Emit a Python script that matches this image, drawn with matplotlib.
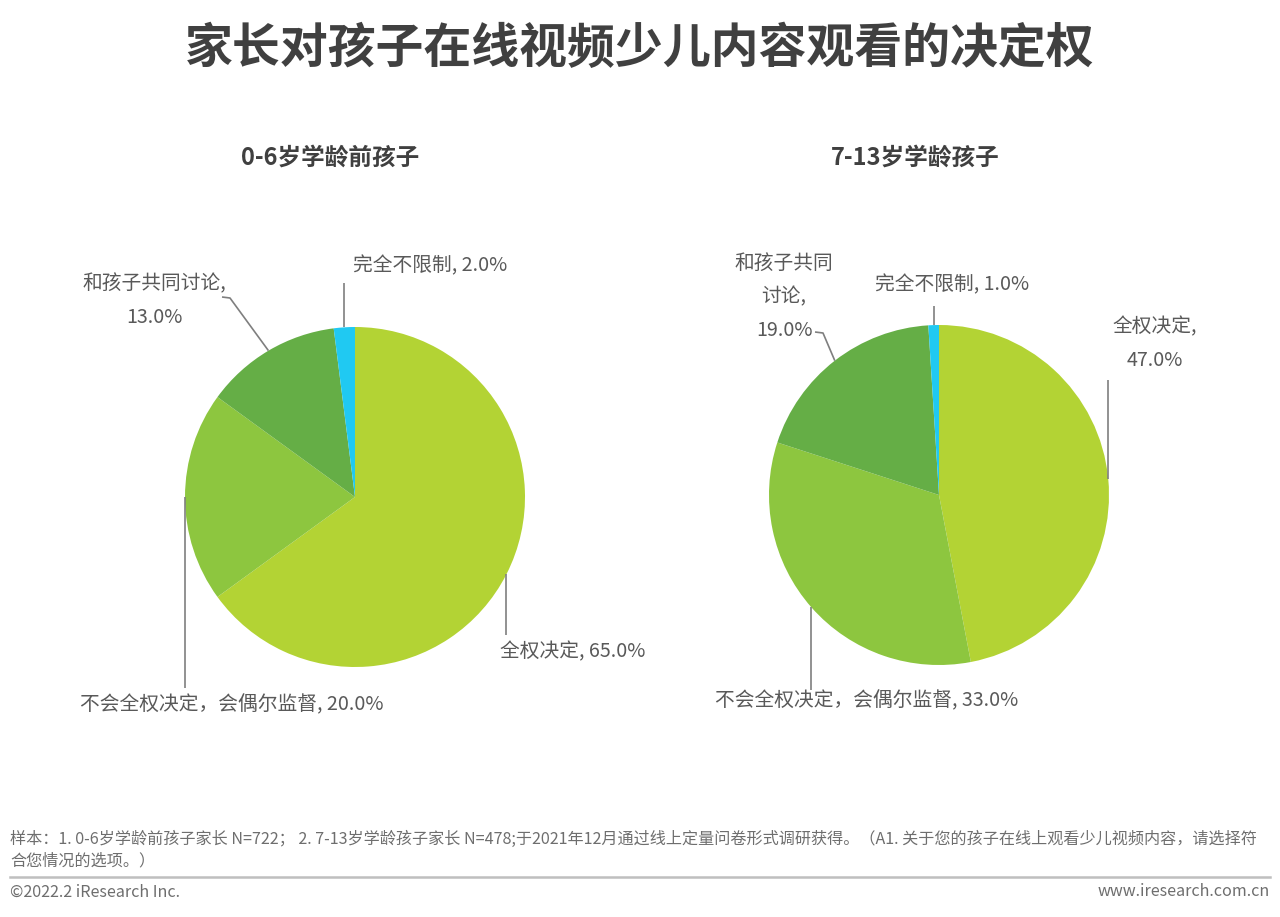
import numpy as np
import matplotlib
matplotlib.use("Agg")
import matplotlib.pyplot as plt

plt.rcParams['font.family'] = ['Noto Sans CJK SC', 'DejaVu Sans']

title = "家长对孩子在线视频少儿内容观看的决定权"
subtitles = ["0-6岁学龄前孩子", "7-13岁学龄孩子"]
categories = ["全权决定", "不会全权决定，会偶尔监督", "和孩子共同讨论", "完全不限制"]
values_0_6 = [65.0, 20.0, 13.0, 2.0]
values_7_13 = [47.0, 33.0, 19.0, 1.0]
colors = ["#B3D334", "#8DC63F", "#65AE46", "#20C9F2"]

note = ("样本：1. 0-6岁学龄前孩子家长 N=722； 2. 7-13岁学龄孩子家长 N=478;于2021年12月通过线上定量问卷形式调研获得。（A1. 关于您的孩子在线上观看少儿视频内容，请选择符\n"
        "合您情况的选项。）")
copyright_text = "©2022.2 iResearch Inc."
site_text = "www.iresearch.com.cn"

W, H = 1280, 917
fig = plt.figure(figsize=(W / 100, H / 100), dpi=100)
ax = fig.add_axes([0, 0, 1, 1])
ax.set_xlim(0, W)
ax.set_ylim(0, H)
ax.axis('off')

def Y(py):
    return H - py

TXT = "#595959"
LINE = "#7F7F7F"

charts = [
    dict(values=values_0_6, center=(355, 497), r=170, sub_x=330,
         labels=[
             dict(text="全权决定, {:.1f}%", pos=(500, 652), ha='left', path=[(505, 635)], vert=True),
             dict(text="不会全权决定，会偶尔监督, {:.1f}%", pos=(80, 705), ha='left', path=[(185, 688)], vert=True),
             dict(text="和孩子共同讨论,\n{:.1f}%", pos=(154, 301), ha='center', path=[(230, 298), (222, 297)], vert=False),
             dict(text="完全不限制, {:.1f}%", pos=(353, 266), ha='left', path=[(344, 283)], vert=True),
         ]),
    dict(values=values_7_13, center=(939, 495), r=170, sub_x=915,
         labels=[
             dict(text="全权决定,\n{:.1f}%", pos=(1155, 344), ha='center', path=[(1106, 380)], vert=True),
             dict(text="不会全权决定，会偶尔监督, {:.1f}%", pos=(715, 701), ha='left', path=[(811, 690)], vert=True),
             dict(text="和孩子共同\n讨论,\n{:.1f}%", pos=(784, 297), ha='center', path=[(823, 333), (815, 332)], vert=False),
             dict(text="完全不限制, {:.1f}%", pos=(875, 285), ha='left', path=[(933, 306)], vert=True),
         ]),
]

for i, ch in enumerate(charts):
    cx, cy = ch['center']
    wedges, _ = ax.pie(ch['values'], colors=colors, startangle=90, counterclock=False,
                       center=(cx, Y(cy)), radius=ch['r'], frame=True,
                       wedgeprops=dict(linewidth=0))
    for w, v, lab in zip(wedges, ch['values'], ch['labels']):
        mid = np.deg2rad((w.theta1 + w.theta2) / 2)
        px = cx + ch['r'] * np.cos(mid)
        py = Y(cy) + ch['r'] * np.sin(mid)
        xs = [px]
        ys = [py]
        for (qx, qy) in lab['path']:
            if lab['vert'] and len(xs) == 1:
                xs.append(px)
            else:
                xs.append(qx)
            ys.append(Y(qy))
        ax.plot(xs, ys, color=LINE, lw=1.2, solid_capstyle='butt')
        ax.text(lab['pos'][0], Y(lab['pos'][1]), lab['text'].format(v), ha=lab['ha'], va='center',
                fontsize=14.2, color=TXT, linespacing=1.78, multialignment='center')
    ax.text(ch['sub_x'], Y(158), subtitles[i], ha='center', va='center',
            fontsize=17, fontweight='bold', color="#404040")

ax.set_xlim(0, W)
ax.set_ylim(0, H)
ax.set_aspect('auto')
ax.axis('off')

fig.text(640 / W, 1 - 48 / H, title, ha='center', va='center', fontsize=34.5, fontweight='bold', color="#404040")

ax.text(10, Y(850), note, ha='left', va='center', fontsize=11.6, color="#6E6E6E", linespacing=1.3)
ax.plot([10, 1270], [Y(877), Y(877)], color="#BFBFBF", lw=1.8)
ax.text(10, Y(892), copyright_text, ha='left', va='center', fontsize=11.6, color="#6E6E6E")
ax.text(1270, Y(892), site_text, ha='right', va='center', fontsize=11.6, color="#6E6E6E")

fig.savefig("out.png", dpi=100)
